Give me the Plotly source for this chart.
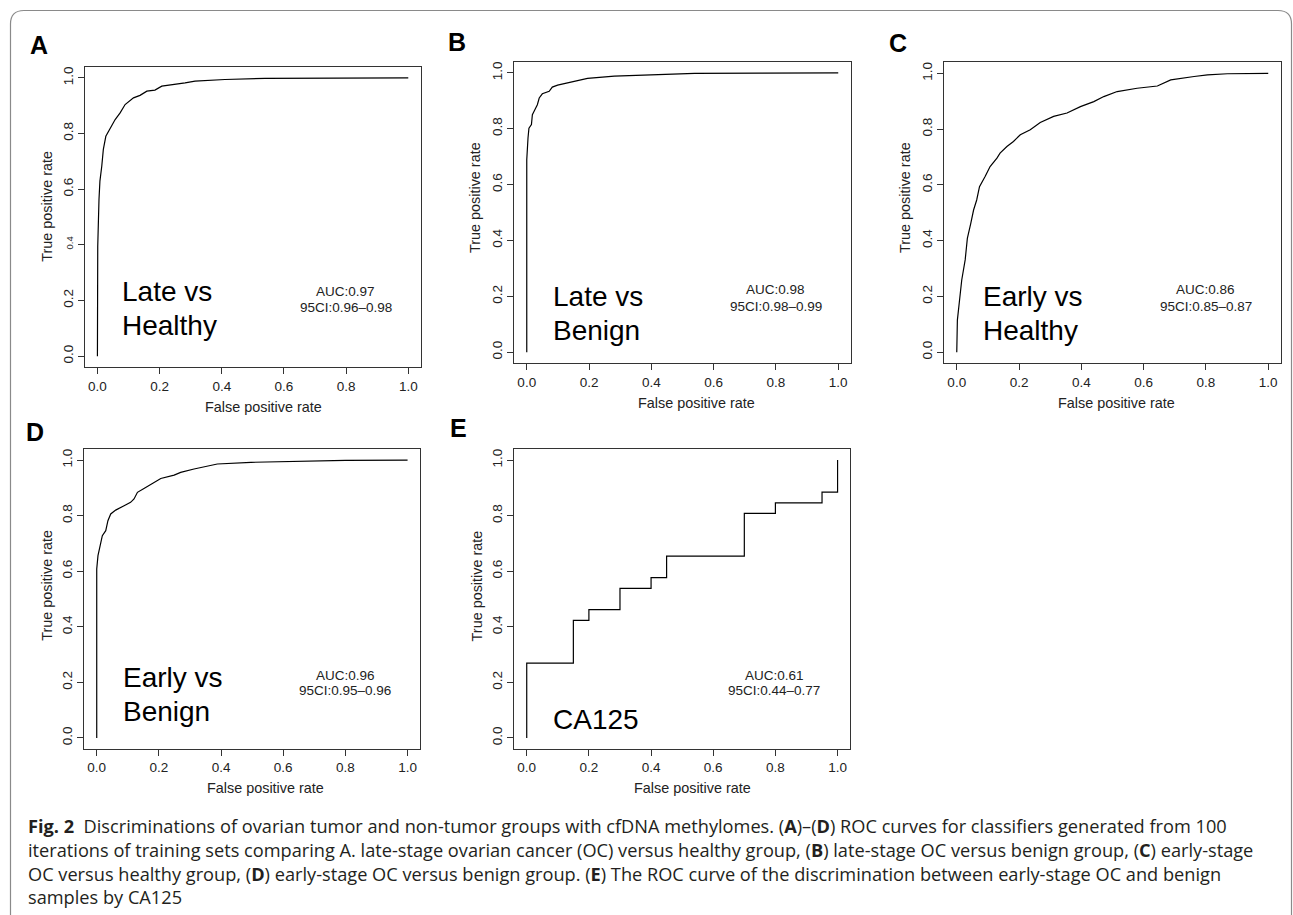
import plotly.graph_objects as go

W, H = 1293, 915

# ---------------- data ----------------
fpr_a = [0.0, 0.0, 0.001, 0.005, 0.008, 0.014, 0.019, 0.027, 0.041, 0.057, 0.073, 0.089,
         0.116, 0.137, 0.159, 0.185, 0.207, 0.25, 0.282, 0.314, 0.41, 0.539, 0.75, 1.0]
tpr_a = [0.0, 0.30, 0.395, 0.563, 0.629, 0.683, 0.743, 0.79, 0.82, 0.85, 0.874, 0.904,
         0.928, 0.937, 0.952, 0.956, 0.97, 0.976, 0.982, 0.988, 0.994, 0.998, 0.999, 1.0]

fpr_b = [0.0, 0.0, 0.0, 0.004, 0.007, 0.015, 0.018, 0.026, 0.034, 0.04, 0.05, 0.072,
         0.082, 0.099, 0.142, 0.195, 0.281, 0.41, 0.539, 0.75, 1.0]
tpr_b = [0.0, 0.395, 0.689, 0.767, 0.802, 0.815, 0.85, 0.868, 0.886, 0.91, 0.925, 0.934,
         0.949, 0.956, 0.967, 0.98, 0.988, 0.992, 0.998, 0.999, 1.0]

fpr_c = [0.0, 0.002, 0.009, 0.016, 0.027, 0.034, 0.045, 0.054, 0.064, 0.073, 0.091, 0.107,
         0.129, 0.139, 0.161, 0.182, 0.204, 0.236, 0.268, 0.311, 0.354, 0.397, 0.44, 0.472,
         0.515, 0.579, 0.644, 0.687, 0.762, 0.805, 0.869, 1.0]
tpr_c = [0.0, 0.115, 0.187, 0.259, 0.331, 0.408, 0.462, 0.51, 0.546, 0.594, 0.63, 0.666,
         0.696, 0.714, 0.738, 0.756, 0.78, 0.798, 0.824, 0.846, 0.858, 0.881, 0.899, 0.917,
         0.935, 0.947, 0.955, 0.977, 0.989, 0.995, 0.999, 1.0]

fpr_d = [0.0, 0.0, 0.0, 0.004, 0.011, 0.018, 0.029, 0.036, 0.045, 0.061, 0.088, 0.109,
         0.12, 0.131, 0.152, 0.184, 0.206, 0.249, 0.27, 0.313, 0.388, 0.496, 0.603, 0.8, 1.0]
tpr_d = [0.0, 0.393, 0.608, 0.656, 0.692, 0.728, 0.746, 0.782, 0.806, 0.82, 0.836, 0.848,
         0.86, 0.884, 0.898, 0.92, 0.934, 0.946, 0.956, 0.968, 0.986, 0.992, 0.995, 0.999, 1.0]

# CA125: step ROC (vertical then horizontal between points)
fpr_e = [0.0, 0.15, 0.20, 0.30, 0.40, 0.45, 0.70, 0.80, 0.95, 1.0, 1.0]
tpr_e = [0.0, 0.269, 0.423, 0.462, 0.538, 0.577, 0.654, 0.808, 0.846, 0.885, 1.0]

panel_letters = ["A", "B", "C", "D", "E"]
group_line1 = ["Late vs", "Late vs", "Early vs", "Early vs", "CA125"]
group_line2 = ["Healthy", "Benign", "Healthy", "Benign", ""]
auc_values = ["0.97", "0.98", "0.86", "0.96", "0.61"]
ci_values = ["0.96\u20130.98", "0.98\u20130.99", "0.85\u20130.87", "0.95\u20130.96", "0.44\u20130.77"]
tick_vals = [0.0, 0.2, 0.4, 0.6, 0.8, 1.0]
tick_text = ["0.0", "0.2", "0.4", "0.6", "0.8", "1.0"]
x_title = "False positive rate"
y_title = "True positive rate"

caption_lines = [
    "<b>Fig. 2</b>  Discriminations of ovarian tumor and non-tumor groups with cfDNA methylomes. "
    "(<b>A</b>)\u2013(<b>D</b>) ROC curves for classifiers generated from 100",
    "iterations of training sets comparing A. late-stage ovarian cancer (OC) versus healthy group, "
    "(<b>B</b>) late-stage OC versus benign group, (<b>C</b>) early-stage",
    "OC versus healthy group, (<b>D</b>) early-stage OC versus benign group. (<b>E</b>) The ROC "
    "curve of the discrimination between early-stage OC and benign",
    "samples by CA125",
]

curves = [(fpr_a, tpr_a, "linear"), (fpr_b, tpr_b, "linear"), (fpr_c, tpr_c, "linear"),
          (fpr_d, tpr_d, "linear"), (fpr_e, tpr_e, "vh")]

# ---------------- layout geometry (pixels) ----------------
boxes = [  # left, right, top, bottom
    (85, 420.7, 66.7, 367.3),
    (514.3, 850.7, 61.7, 363.3),
    (944.3, 1280.7, 62.3, 363.3),
    (84.3, 420.0, 449.0, 749.0),
    (514.3, 850.0, 449.0, 749.0),
]
letter_pos = [(38.7, 45), (456.7, 41.7), (897.5, 43), (35, 431.7), (458.7, 428.3)]
xtitle_pos = [(263, 407.3), (696.7, 403.3), (1116.7, 403.3), (265, 788.3), (692.3, 787.7)]
ytitle_pos = [(46.7, 206), (475, 198), (905, 198), (46.7, 585), (476.7, 585.7)]
# text positions in data units
big_pos = [(0.073, 0.231, 0.111), (0.077, 0.199, 0.079), (0.077, 0.199, 0.079),
           (0.077, 0.216, 0.096), (0.077, 0.066, None)]
auc_pos = [(0.799, 0.234, 0.174), (0.80, 0.225, 0.165), (0.80, 0.225, 0.165),
           (0.799, 0.224, 0.17), (0.797, 0.224, 0.17)]

FONT = "Liberation Sans, Arial, Helvetica, sans-serif"


def px(x):
    return x / W


def py(y):
    return 1 - y / H


fig = go.Figure()
annotations = []
for i, (fx, ty, shape) in enumerate(curves):
    n = "" if i == 0 else str(i + 1)
    fig.add_trace(go.Scatter(x=fx, y=ty, mode="lines", line=dict(color="black", width=1.2, shape=shape),
                             xaxis="x" + n, yaxis="y" + n, hoverinfo="skip", showlegend=False))
    l, r, t, b = boxes[i]
    ytext = list(tick_text)
    if i == 0:
        ytext[2] = "<span style='font-size:9.5px'>0.4</span>"
    axcommon = dict(showline=True, mirror=True, linecolor="#333", linewidth=1.2,
                    ticks="outside", ticklen=6, tickwidth=1, tickcolor="#333",
                    showgrid=False, zeroline=False, tickvals=tick_vals,
                    tickfont=dict(family=FONT, size=13.5, color="#222"),
                    range=[-0.04, 1.04], fixedrange=True)
    fig.update_layout(**{
        "xaxis" + n: dict(domain=[px(l), px(r)], anchor="y" + n, ticktext=tick_text, **axcommon),
        "yaxis" + n: dict(domain=[py(b), py(t)], anchor="x" + n, ticktext=ytext, tickangle=-90, **axcommon),
    })
    xr, yr = "x" + n, "y" + n
    annotations.append(dict(x=px(letter_pos[i][0]), y=py(letter_pos[i][1]), xref="paper", yref="paper",
                            text="<b>%s</b>" % panel_letters[i], showarrow=False,
                            font=dict(family=FONT, size=25, color="black"), xanchor="center", yanchor="middle"))
    annotations.append(dict(x=px(xtitle_pos[i][0]), y=py(xtitle_pos[i][1]), xref="paper", yref="paper",
                            text=x_title, showarrow=False, font=dict(family=FONT, size=14.4, color="#222"),
                            xanchor="center", yanchor="middle"))
    annotations.append(dict(x=px(ytitle_pos[i][0]), y=py(ytitle_pos[i][1]), xref="paper", yref="paper",
                            text=y_title, showarrow=False, textangle=-90,
                            font=dict(family=FONT, size=14.4, color="#222"),
                            xanchor="center", yanchor="middle"))
    bx, by1, by2 = big_pos[i]
    annotations.append(dict(x=bx, y=by1, xref=xr, yref=yr, text=group_line1[i], showarrow=False,
                            font=dict(family=FONT, size=28, color="black"), xanchor="left", yanchor="middle"))
    if by2 is not None and group_line2[i]:
        annotations.append(dict(x=bx, y=by2, xref=xr, yref=yr, text=group_line2[i], showarrow=False,
                                font=dict(family=FONT, size=28, color="black"), xanchor="left", yanchor="middle"))
    ax_, ay1, ay2 = auc_pos[i]
    annotations.append(dict(x=ax_, y=ay1, xref=xr, yref=yr, text="AUC:" + auc_values[i], showarrow=False,
                            font=dict(family=FONT, size=13.5, color="#222"), xanchor="center", yanchor="middle"))
    annotations.append(dict(x=ax_, y=ay2, xref=xr, yref=yr, text="95CI:" + ci_values[i], showarrow=False,
                            font=dict(family=FONT, size=13.5, color="#222"), xanchor="center", yanchor="middle"))

CAP_FONT = "Open Sans, Noto Sans, sans-serif"
cap_baselines = [832, 856, 879.5, 903]
for j, line in enumerate(caption_lines):
    annotations.append(dict(x=px(26), y=py(cap_baselines[j] - 6), xref="paper", yref="paper",
                            text=line, showarrow=False, xanchor="left", yanchor="middle",
                            font=dict(family=CAP_FONT, size=18.2, color="#231f20")))


def P(x, y):
    return "%.6f,%.6f" % (px(x), py(y))


frame = ("M " + P(10.5, 916) + " L " + P(10.5, 24) + " Q " + P(10.5, 10.5) + " " + P(24, 10.5) +
         " L " + P(1278, 10.5) + " Q " + P(1291.5, 10.5) + " " + P(1291.5, 24) + " L " + P(1291.5, 916))

fig.update_layout(
    width=W, height=H, margin=dict(l=0, r=0, t=0, b=0),
    paper_bgcolor="white", plot_bgcolor="white", showlegend=False,
    annotations=annotations,
    shapes=[dict(type="path", path=frame, xref="paper", yref="paper",
                 line=dict(color="#8a8a8a", width=1.2))],
)

fig.write_html("out.html", config={"displayModeBar": False},
               post_script="document.body.style.margin='0';document.body.style.overflow='hidden';")
